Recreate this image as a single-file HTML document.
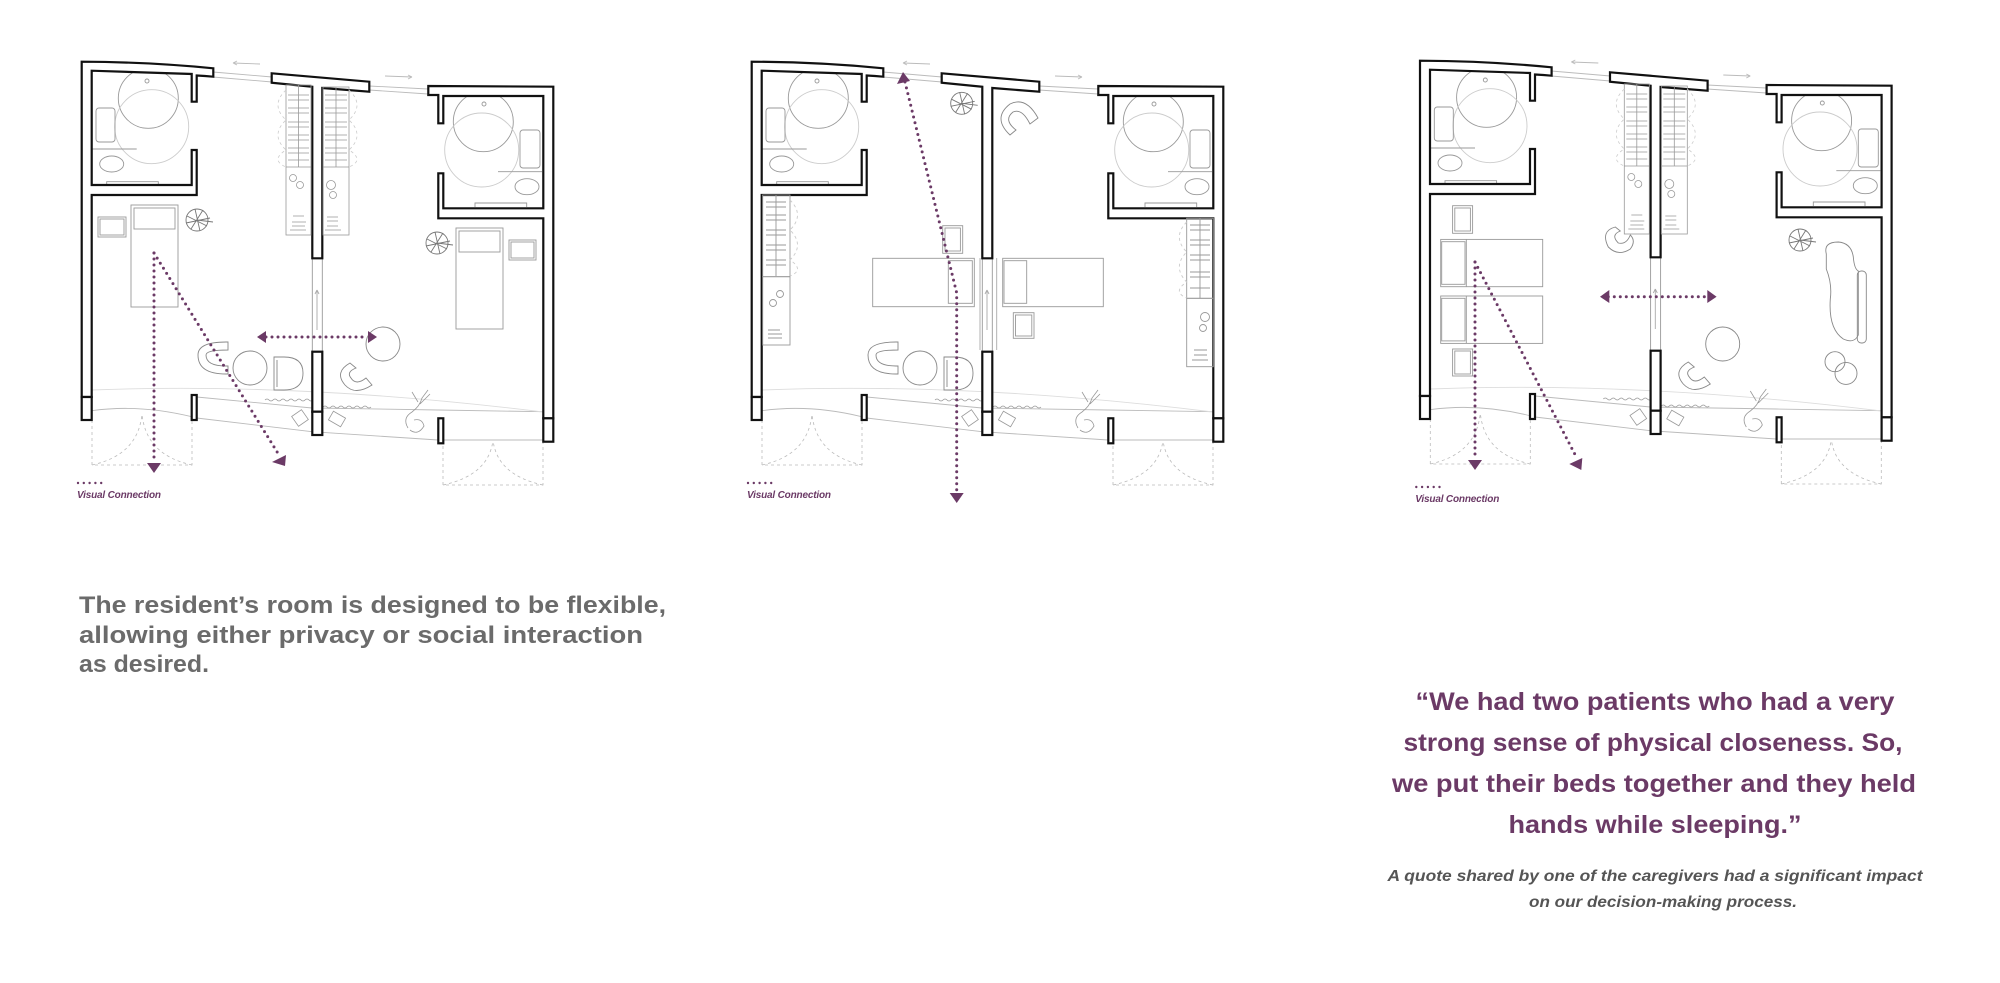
<!DOCTYPE html>
<html><head><meta charset="utf-8"><style>
html,body{margin:0;padding:0;background:#fff;}
svg{display:block;}
</style></head><body>
<svg width="2000" height="983" viewBox="0 0 2000 983" xmlns="http://www.w3.org/2000/svg">
<defs>
<g id="shell">
  <g fill="none" stroke="#bbb" stroke-width="0.9">
    <path d="M91.7,410.7 Q140,404 191.7,416.7"/>
    <path d="M196.7,418 L312,431.7 L438,440 L543,440"/>
    <path d="M196.7,397 L312,408 L438,410 L543,411.7"/>
    <path d="M91.7,390 Q300,382 543,412" stroke="#ddd"/>
    <path d="M213,72 L272,77 M213,77 L272,82 M369,86 L428,89 M369,90 L428,94"/>
    <path d="M233,63 L260,64 M233,63 l4,-2 M233,63 l4,2 M385,76 L412,77 M412,77 l-4,-2 M412,77 l-4,2"/>
    <path d="M312.3,258 V352 M322.3,258 V352" stroke="#999"/>
    <path d="M317,330 V290 M317,290 l-2,4 M317,290 l2,4" stroke="#aaa"/>
  </g>
  <g fill="none" stroke="#bbb" stroke-width="0.8" stroke-dasharray="3 3">
    <path d="M92,414 V465 H192 V417"/>
    <path d="M92,465 Q138,455 142,414 M192,465 Q146,455 142,414"/>
    <path d="M443,440 V485 H543 V440"/>
    <path d="M443,485 Q489,475 493,440 M543,485 Q497,475 493,440"/>
  </g>
  <g fill="none" stroke="#999" stroke-width="0.8">
    <path d="M265,400 q2,-2 4,0 t4,0 t4,0 t4,0 t4,0 t4,0 t4,0 t4,0 t4,0 t4,0 t4,0 t4,0"/>
    <path d="M323,407 q2,-2 4,0 t4,0 t4,0 t4,0 t4,0 t4,0 t4,0 t4,0 t4,0 t4,0 t4,0 t4,0"/>
    <rect x="294" y="412" width="12" height="12" transform="rotate(-35 300 418)"/>
    <rect x="330" y="414" width="14" height="10" transform="rotate(30 337 419)"/>
    <path d="M408,428 q-6,-10 4,-16 q8,-6 10,-14 l6,-8 M418,402 l-6,-10 M420,404 l10,-10 M410,430 q8,6 14,-4 q-2,-8 -10,-6"/>
  </g>
  <g fill="none" stroke="#999" stroke-width="0.9">
    <circle cx="148.3" cy="98.3" r="30"/>
    <circle cx="151.7" cy="126.7" r="37" stroke="#ccc"/>
    <rect x="96" y="108" width="19" height="34" rx="3"/>
    <ellipse cx="111.7" cy="164" rx="12" ry="8"/>
    <path d="M91.7,149 H136.7 M106.7,184 V181.7 H158.3 V184"/>
    <circle cx="147" cy="81" r="2"/>
    <circle cx="483.3" cy="121.7" r="30"/>
    <circle cx="481.7" cy="150" r="37" stroke="#ccc"/>
    <rect x="520" y="130" width="20" height="38" rx="3"/>
    <ellipse cx="527" cy="186.7" rx="12" ry="8"/>
    <path d="M498,171.7 H542 M475,207 V203 H526.7 V207"/>
    <circle cx="484" cy="104" r="2"/>
  </g>
  <g fill="#fff" stroke="#111" stroke-width="2.2" stroke-linejoin="miter">
    <path d="M81.7,397 V61.7 Q150,62 213.3,68.3 V76.7 Q205,76 196.7,75.5 V101.7 H191.7 V74 L91.7,70.7 V185 H191.7 V150 H196.7 V195 H91.7 V397 Z"/>
    <rect x="81.7" y="397" width="10" height="23"/>
    <rect x="191.7" y="395" width="5" height="25"/>
    <path d="M271.7,73.3 L369.3,81.7 V91.7 L322.3,88 V258.3 H312.3 V86.8 L271.7,82.7 Z"/>
    <rect x="312.3" y="351.7" width="10" height="60"/>
    <rect x="312.3" y="411.7" width="10" height="23.3"/>
    <path d="M428.3,86 L553.3,86.7 V418.3 H543.3 V218.3 H438.3 V173.3 H443.3 V208.3 H543.3 V96 H443.3 V123.3 H438.3 V95 H428.3 Z"/>
    <rect x="543.3" y="418.3" width="10" height="23.4"/>
    <rect x="438.3" y="418.3" width="5" height="25"/>
  </g>
</g>
<g id="wardrobes" fill="none" stroke="#999" stroke-width="0.8">
  <rect x="286" y="85" width="25" height="150"/>
  <rect x="323" y="87" width="26" height="148"/>
  <path d="M286,167 H311 M323,167 H349 M298.5,85 V167 M336,87 V167"/>
  <path d="M288,95 H309 M288,100 H309 M288,108 H309 M288,113 H309 M288,122 H309 M288,127 H309 M288,135 H309 M288,140 H309 M288,148 H309 M288,153 H309 M288,160 H309"/>
  <path d="M325,95 H347 M325,100 H347 M325,108 H347 M325,113 H347 M325,122 H347 M325,127 H347 M325,135 H347 M325,140 H347 M325,148 H347 M325,153 H347 M325,160 H347"/>
  <circle cx="293" cy="178" r="3.5"/><circle cx="300" cy="185" r="3.5"/>
  <circle cx="331" cy="185" r="4.5"/><circle cx="333" cy="195" r="3.5"/>
  <path d="M293,216 H304 M292,222 H306 M292,226 H305 M290,230 H306 M327,217 H338 M327,221 H338 M327,226 H338 M325,230 H341"/>
  <path d="M286,90 Q270,105 286,120 Q270,135 286,150 Q270,160 286,167 M349,90 Q365,105 349,120 Q365,135 349,150 Q365,160 349,167" stroke="#ccc" stroke-dasharray="3 3"/>
</g>
<g id="tableset" fill="none" stroke="#888" stroke-width="0.9">
  <path d="M228,342 H226 Q198,342 198,355 Q198,374 226,374 H228 V366 H226 Q206,366 206,355 Q206,350 228,350 Z"/>
  <circle cx="250" cy="368" r="17"/>
  <path d="M274,357 V390 H284 Q303,390 303,373 Q303,357 284,357 Z M277,360 V387"/>
</g>
<g id="legend">
  <path d="M78,483 H107" stroke="#6b3a66" stroke-width="2.4" stroke-linecap="round" stroke-dasharray="0 5.8"/>
  <text x="77" y="498" font-family="Liberation Sans, sans-serif" font-size="10" font-weight="bold" font-style="italic" fill="#6b3a66" textLength="84">Visual Connection</text>
</g>
<g id="plant" fill="none" stroke="#777" stroke-width="0.9">
  <circle cx="0" cy="0" r="11"/>
  <path d="M-10,-4 L10,6 M-6,9 L6,-10 M-2,-11 L3,11 M-11,3 L13,-2 M0,0 L16,2"/>
</g>
</defs>

<g>
  <use href="#shell"/>
  <use href="#wardrobes"/>
  <g fill="none" stroke="#999" stroke-width="0.9">
    <rect x="131" y="205" width="47" height="102"/>
    <rect x="134" y="208" width="41" height="21"/>
    <rect x="98" y="217" width="28" height="20"/><rect x="100" y="219" width="24" height="16"/>
    <rect x="456" y="228" width="47" height="101"/>
    <rect x="459" y="231" width="41" height="21"/>
    <rect x="509" y="240" width="27" height="20"/><rect x="511" y="242" width="23" height="16"/>
  </g>
  <use href="#plant" transform="translate(197 220)"/>
  <use href="#plant" transform="translate(437 243)"/>
  <use href="#tableset"/>
  <g fill="none" stroke="#888" stroke-width="0.9">
    <circle cx="383" cy="344" r="17"/>
    <path d="M350,363 Q334,372 345,385 Q355,396 372,385 L366,378 Q356,386 351,378 Q346,372 356,368 Z"/>
  </g>
  <g stroke="#6b3a66" stroke-width="3" stroke-linecap="round" fill="none" stroke-dasharray="0 6">
    <path d="M154,253 V461"/>
    <path d="M154,253 L279,455"/>
    <path d="M266,337 H368"/>
  </g>
  <g fill="#6b3a66">
    <path d="M147,463 H161 L154,473 Z"/>
    <path d="M286,455 L285,466 L272,462 Z"/>
    <path d="M257,337 L266,331 V343 Z"/>
    <path d="M377,337 L368,331 V343 Z"/>
  </g>
  <use href="#legend"/>
</g>

<g transform="translate(670 0)">
  <use href="#shell"/>
  <g fill="none" stroke="#999" stroke-width="0.9">
    <rect x="92.7" y="195" width="27.3" height="81.7"/>
    <rect x="92.7" y="276.7" width="27.3" height="68.3"/>
    <path d="M96,202 H116 M96,207 H116 M96,215 H116 M96,220 H116 M96,230 H116 M96,235 H116 M96,245 H116 M96,250 H116 M96,260 H116 M96,265 H116 M106,195 V276"/>
    <path d="M120,200 Q135,215 120,230 Q135,245 120,260 Q135,270 120,276" stroke="#ccc" stroke-dasharray="3 3"/>
    <circle cx="103" cy="303" r="3.5"/><circle cx="110" cy="294" r="3.5"/>
    <path d="M98,330 H110 M98,334 H112 M98,338 H112"/>
    <rect x="516.7" y="218.3" width="26.6" height="80"/>
    <rect x="516.7" y="298.3" width="26.6" height="68.4"/>
    <path d="M520,225 H540 M520,230 H540 M520,240 H540 M520,245 H540 M520,255 H540 M520,260 H540 M520,272 H540 M520,277 H540 M520,288 H540 M530,218 V298"/>
    <path d="M516.7,222 Q502,237 516.7,252 Q502,267 516.7,282 Q502,292 516.7,298" stroke="#ccc" stroke-dasharray="3 3"/>
    <circle cx="535" cy="317" r="4.5"/><circle cx="533" cy="328" r="3.5"/>
    <path d="M524,350 H537 M524,355 H537 M522,360 H538"/>
    <rect x="272.7" y="225.7" width="20" height="27.6"/><rect x="275" y="228" width="15.4" height="23"/>
    <rect x="202.7" y="258.3" width="101.6" height="48.4"/>
    <rect x="278.3" y="260.7" width="24" height="42.6"/>
    <rect x="332.7" y="258.3" width="100.6" height="48.4"/>
    <rect x="334" y="260.7" width="22.7" height="42.6"/>
    <rect x="343.3" y="312.7" width="20.7" height="25.6"/><rect x="345.5" y="315" width="16.3" height="21"/>
    <path d="M310,258 V350 M326.7,258 V350" stroke="#aaa"/>
  </g>
  <use href="#plant" transform="translate(291.7 103.3)"/>
  <g fill="none" stroke="#888" stroke-width="0.9">
    <path d="M340,135 Q322,118 340,104 Q356,96 368,118 L360,124 Q352,108 343,112 Q333,120 346,130 Z"/>
  </g>
  <use href="#tableset"/>
  <g stroke="#6b3a66" stroke-width="3" stroke-linecap="round" fill="none" stroke-dasharray="0 6">
    <path d="M235,82 L286.7,293 V492"/>
  </g>
  <g fill="#6b3a66">
    <path d="M233,72 L227,84 L240,81 Z"/>
    <path d="M279.7,493 H293.7 L286.7,503 Z"/>
  </g>
  <use href="#legend"/>
</g>

<g transform="translate(1338.3 -1)">
  <use href="#shell"/>
  <use href="#wardrobes"/>
  <g fill="none" stroke="#999" stroke-width="0.9">
    <rect x="114.3" y="206.7" width="20" height="27.6"/><rect x="116.5" y="209" width="15.6" height="23"/>
    <rect x="102.4" y="240.4" width="102" height="47.3"/>
    <rect x="103.4" y="242.7" width="23.3" height="42.6"/>
    <path d="M128,240.4 V287.7"/>
    <rect x="102.4" y="297" width="102" height="47.4"/>
    <rect x="103.4" y="299.3" width="23.3" height="42.6"/>
    <path d="M128,297 V344.4"/>
    <rect x="114.3" y="350" width="20" height="27"/><rect x="116.5" y="352" width="15.6" height="23"/>
  </g>
  <use href="#plant" transform="translate(461.7 241)"/>
  <g fill="none" stroke="#888" stroke-width="0.9">
    <path d="M277,228 Q262,232 270,248 Q280,258 292,250 Q298,242 292,236 Q288,246 280,244 Q272,236 282,232 Z"/>
    <path d="M488,255 Q485,243 500,243 Q513,244 515,258 Q516,270 520,272 L520,336 Q516,345 505,340 Q490,330 492,300 Q494,285 488,270 Z"/>
    <rect x="519" y="272" width="9" height="72" rx="4"/>
    <circle cx="384.4" cy="345" r="17"/>
    <path d="M350,363 Q334,372 345,385 Q355,396 372,385 L366,378 Q356,386 351,378 Q346,372 356,368 Z"/>
    <circle cx="496.7" cy="362.7" r="10"/>
    <circle cx="507.7" cy="374.4" r="11"/>
  </g>
  <g stroke="#6b3a66" stroke-width="3" stroke-linecap="round" fill="none" stroke-dasharray="0 6">
    <path d="M136.7,263 V460"/>
    <path d="M136.7,263 L238,458"/>
    <path d="M270,297.7 H370"/>
  </g>
  <g fill="#6b3a66">
    <path d="M129.7,461 H143.7 L136.7,471 Z"/>
    <path d="M244,459 L243,471 L231,465 Z"/>
    <path d="M261.7,297.7 L271,291 V304 Z"/>
    <path d="M378.3,297.7 L369,291 V304 Z"/>
  </g>
  <g transform="translate(0 5)"><use href="#legend"/></g>
</g>

<g font-family="Liberation Sans, sans-serif" font-weight="bold" fill="#6b6b6b" font-size="24">
  <text x="79" y="613" textLength="587" lengthAdjust="spacingAndGlyphs">The resident’s room is designed to be flexible,</text>
  <text x="79" y="643" textLength="564" lengthAdjust="spacingAndGlyphs">allowing either privacy or social interaction</text>
  <text x="79" y="672" textLength="130" lengthAdjust="spacingAndGlyphs">as desired.</text>
</g>
<g font-family="Liberation Sans, sans-serif" font-weight="bold" fill="#6b3a66" font-size="25" text-anchor="middle">
  <text x="1655" y="710" textLength="479" lengthAdjust="spacingAndGlyphs">“We had two patients who had a very</text>
  <text x="1653" y="751" textLength="499" lengthAdjust="spacingAndGlyphs">strong sense of physical closeness. So,</text>
  <text x="1654" y="792" textLength="524" lengthAdjust="spacingAndGlyphs">we put their beds together and they held</text>
  <text x="1655" y="833" textLength="293" lengthAdjust="spacingAndGlyphs">hands while sleeping.”</text>
</g>
<g font-family="Liberation Sans, sans-serif" font-weight="bold" font-style="italic" fill="#555" font-size="15.5" text-anchor="middle">
  <text x="1655" y="881" textLength="535" lengthAdjust="spacingAndGlyphs">A quote shared by one of the caregivers had a significant impact</text>
  <text x="1663" y="907" textLength="268" lengthAdjust="spacingAndGlyphs">on our decision-making process.</text>
</g>
</svg>
</body></html>
